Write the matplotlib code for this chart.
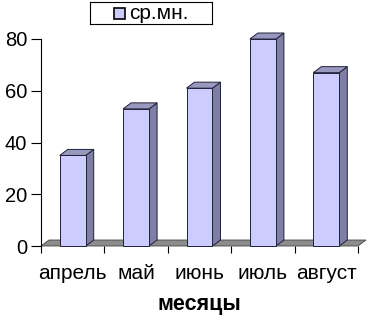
import matplotlib
matplotlib.use("Agg")
import matplotlib.pyplot as plt
from matplotlib.patches import Polygon

plt.rcParams["font.family"] = ["Liberation Sans", "DejaVu Sans"]

months = ["апрель", "май", "июнь", "июль", "август"]
values = [35, 53, 61, 80, 67]
series_name = "ср.мн."

front_c = "#ccccff"
side_c = "#7f7fa6"
top_c = "#9999c0"
edge_c = "#20203a"

fig = plt.figure(figsize=(3.68, 3.16), dpi=100)
ax = fig.add_axes([41 / 368, 70 / 316, 317 / 368, 207 / 316])
ax.set_xlim(0, len(months))
ax.set_ylim(0, 80)

dx = 8 / 63.4   # depth offset in category units
dy = 6 / 2.59   # depth offset in value units
w = 0.41

# floor
ax.add_patch(Polygon([(0, 0), (len(months), 0), (len(months) + dx, dy), (dx, dy)],
                     closed=True, facecolor="#8c8c8c", edgecolor="#444444",
                     lw=0.6, clip_on=False, zorder=1))

for i, v in enumerate(values):
    x0 = i + 0.5 - w / 2
    x1 = x0 + w
    ax.add_patch(Polygon([(x1, 0), (x1 + dx, dy), (x1 + dx, v + dy), (x1, v)],
                         closed=True, facecolor=side_c, edgecolor=edge_c,
                         lw=0.7, clip_on=False, zorder=2))
    ax.add_patch(Polygon([(x0, v), (x1, v), (x1 + dx, v + dy), (x0 + dx, v + dy)],
                         closed=True, facecolor=top_c, edgecolor=edge_c,
                         lw=0.7, clip_on=False, zorder=2))
    ax.add_patch(Polygon([(x0, 0), (x1, 0), (x1, v), (x0, v)],
                         closed=True, facecolor=front_c, edgecolor=edge_c,
                         lw=0.7, clip_on=False, zorder=3))

for s in ["top", "right", "bottom"]:
    ax.spines[s].set_visible(False)
ax.spines["left"].set_linewidth(0.8)

ax.set_yticks([0, 20, 40, 60, 80])
ax.tick_params(axis="y", length=7, width=0.8, labelsize=14.5, pad=3)
ax.set_xticks(range(len(months) + 1))
ax.set_xticklabels([])
ax.tick_params(axis="x", length=5, width=0.8)
ax.set_xticks([i + 0.5 for i in range(len(months))], minor=True)
ax.set_xticklabels(months, minor=True, fontsize=15)
ax.tick_params(axis="x", which="minor", length=0, pad=13)
ax.set_xlabel("месяцы", fontsize=15.5, fontweight="bold", labelpad=8)

# legend
leg_ax = fig.add_axes([90 / 368, 1 - 24 / 316, 122 / 368, 22 / 316])
leg_ax.set_xlim(0, 122)
leg_ax.set_ylim(0, 22)
leg_ax.set_xticks([])
leg_ax.set_yticks([])
for s in leg_ax.spines.values():
    s.set_linewidth(0.8)
leg_ax.add_patch(Polygon([(24, 5), (35, 5), (35, 16), (24, 16)], closed=True,
                         facecolor=front_c, edgecolor="#000000", lw=1.2))
leg_ax.text(39, 10.5, series_name, fontsize=15, va="center", ha="left")

fig.savefig("out.png", dpi=100)
